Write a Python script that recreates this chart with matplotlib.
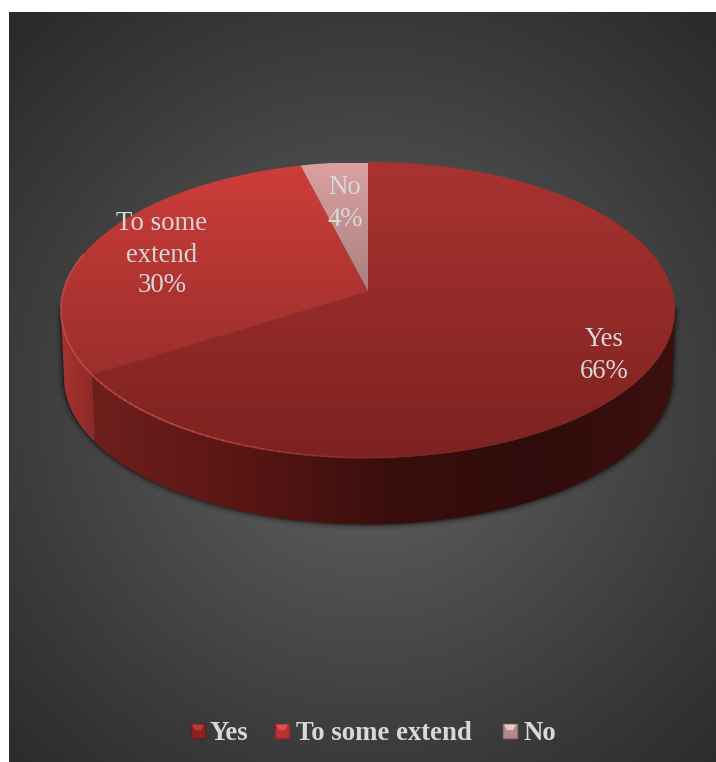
import numpy as np
import matplotlib
matplotlib.use("Agg")
import matplotlib.pyplot as plt
from matplotlib.colors import LinearSegmentedColormap
from matplotlib.patches import Polygon, Rectangle

labels = ['Yes', 'To some extend', 'No']
values = [66, 30, 4]

plt.rcParams['font.family'] = ['Liberation Serif', 'DejaVu Serif']

W, H = 716, 762
cx, cy = 368, 291      # apex of the pie on screen
a, b, k = 145.6, 304.5, 0.128   # perspective of the disc
depth = 68


def rim(theta, drop=0.0, shrink=1.0):
    # theta in degrees, clockwise from 12 o'clock
    t = np.radians(theta)
    u, v = np.sin(t), np.cos(t)
    d = 1 + k * v
    return cx + shrink * b * u / d, cy - shrink * a * v / d + drop


def grad_image(ax, patch, stops, vertical=True, lo=0, hi=1):
    cmap = LinearSegmentedColormap.from_list('g', stops)
    g = np.linspace(0, 1, 256)
    g = g[:, None] if vertical else g[None, :]
    x0, x1, y0, y1 = (0, W, lo, hi) if vertical else (lo, hi, H, 0)
    im = ax.imshow(g, cmap=cmap, extent=(x0, x1, y1, y0), aspect='auto', zorder=patch.get_zorder())
    ax.add_patch(patch)
    patch.set_visible(False)
    im.set_clip_path(patch)
    return im


fig = plt.figure(figsize=(W / 100, H / 100), dpi=100, facecolor='white')
ax = fig.add_axes([0, 0, 1, 1])
ax.set_axis_off()

# panel background, radial
yy, xx = np.mgrid[12:H, 9:W]
r = np.hypot(xx - 368, yy - 400)
shade = np.interp(r, [0, 120, 350, 520], [0x5c, 0x56, 0x3c, 0x2a]) / 255
ax.imshow(np.dstack([shade] * 3), extent=(9, W, H, 12), aspect='auto', zorder=0)

# slice boundaries, and where the wall silhouette leaves the top rim
edges = 360 * np.cumsum([0] + values) / sum(values)
tan_r = np.degrees(np.arccos(-k))
tan_l = 360 - tan_r

# soft shadow round the wall
th_all = np.linspace(tan_r, tan_l, 240)
lx, ly = rim(th_all, depth, 0.99)
rx0, ry0 = rim(tan_r)
lx0, ly0 = rim(tan_l)
lx = np.r_[rx0, lx, lx0]
ly = np.r_[ry0, ly, ly0]
for lw, al in zip([9, 7, 5, 3, 2], [0.03, 0.05, 0.08, 0.12, 0.2]):
    ax.plot(lx, ly, color='black', lw=lw, alpha=al, zorder=1, solid_capstyle='round')

# walls
for i, lim in enumerate([(tan_r, edges[1]), (edges[1], tan_l)]):
    th = np.linspace(lim[0], lim[1], 160)
    tx, ty = rim(th)
    bx, by = rim(th, depth, 0.99)
    pts = np.r_[np.c_[tx, ty], np.c_[bx, by][::-1]]
    p = Polygon(pts, closed=True, zorder=2)
    if i == 0:
        grad_image(ax, p, ['#3b100f', '#2f0c0b', '#3a0e0d', '#5a1614', '#6e1f1c'], vertical=False,
                   lo=pts[:, 0].max(), hi=pts[:, 0].min())
    else:
        grad_image(ax, p, ['#8a2927', '#a83330'], vertical=False, lo=pts[:, 0].max(), hi=pts[:, 0].min())

# top faces
face_stops = [['#a93331', '#7d2220'], ['#cd3d3a', '#9a2e2b'], ['#dba0a0', '#a98080']]
face_range = [(162, 458), (165, 378), (163, 292)]
for i in range(len(values)):
    th = np.linspace(edges[i], edges[i + 1], 200)
    tx, ty = rim(th)
    pts = np.r_[[[cx, cy]], np.c_[tx, ty]]
    p = Polygon(pts, closed=True, zorder=3)
    grad_image(ax, p, face_stops[i], lo=face_range[i][0], hi=face_range[i][1])

# bevel highlight on the rim, front left only, fading out to the right
th = np.linspace(170, 285, 80)
tx, ty = rim(th)
for j in range(len(th) - 1):
    fade = min(1.0, (th[j] - 170) / 40)
    ax.plot(tx[j:j + 2], ty[j:j + 2], color='#c9504c', lw=1.2, alpha=0.7 * fade, zorder=4)

# data labels
txt = '#d9d9d9'
label_lines = [['Yes', '66%'], ['To some', 'extend', '30%'], ['No', '4%']]
label_pos = [(604, 340), (162, 224), (345, 188)]
for lines, (x, y) in zip(label_lines, label_pos):
    for j, s in enumerate(lines):
        ax.text(x, y + j * 31, s, color=txt, fontsize=19.3, ha='center', va='center', zorder=5)

# legend
marker_cols = [('#6e1a1a', '#8a2424', '#b83a3a'), ('#96282a', '#b83434', '#e05050'), ('#987070', '#b48c8c', '#ecc8c8')]
marker_x = [191, 275, 503]
text_x = [210, 296, 523]
for lab, col, mx, tx0 in zip(labels, marker_cols, marker_x, text_x):
    ax.add_patch(Rectangle((mx, 723.5), 14, 14, fc=col[1], ec=col[0], lw=1, zorder=5))
    ax.add_patch(Polygon([(mx + 1, 724.5), (mx + 13, 724.5), (mx + 10, 730), (mx + 4, 730)],
                         fc=col[2], ec='none', zorder=6))
    ax.text(tx0, 740, lab, color=txt, fontsize=19.3, fontweight='bold', ha='left', va='baseline', zorder=5)

ax.set_xlim(0, W)
ax.set_ylim(H, 0)
fig.savefig('out.png', dpi=100, facecolor='white')
